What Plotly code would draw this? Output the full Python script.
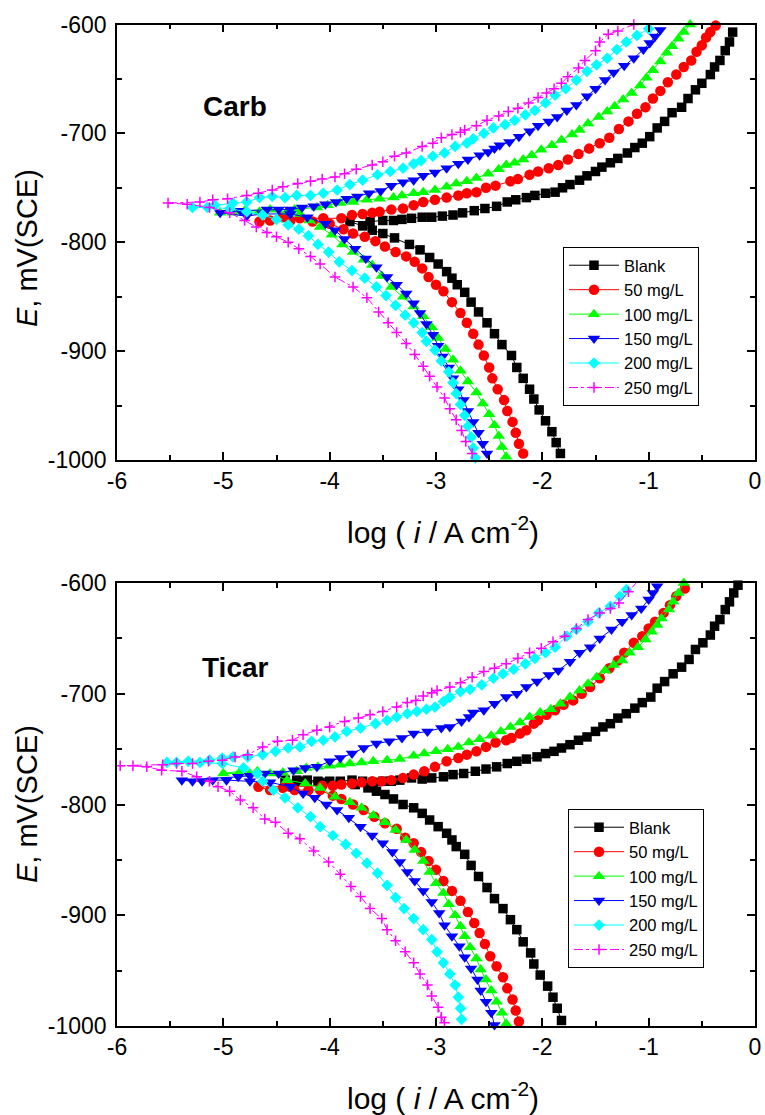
import plotly.graph_objects as go

# ---------------- data (log i [A cm-2], E [mV vs SCE]) ----------------
series_names = ["Blank", "50 mg/L", "100 mg/L", "150 mg/L", "200 mg/L", "250 mg/L"]
x_tick_vals = [-6, -5, -4, -3, -2, -1, 0]
y_tick_vals = [-1000, -900, -800, -700, -600]

# ---- Carb (top panel) ----
carb_blank = [(-1.83,-994),(-1.87,-984),(-1.91,-974),(-1.97,-964),(-2.03,-954),(-2.08,-944),(-2.12,-935),(-2.18,-925),
    (-2.24,-915),(-2.29,-904),(-2.38,-894),(-2.45,-884),(-2.52,-874),(-2.60,-864),(-2.67,-855),(-2.73,-846),(-2.80,-839),
    (-2.85,-833),(-2.90,-827),(-2.98,-820),(-3.06,-814),(-3.15,-807),(-3.25,-802),(-3.39,-796),(-3.50,-792),(-3.60,-789),
    (-3.69,-785),(-3.81,-781),
    (-3.62,-781),(-3.50,-780),(-3.40,-780),(-3.32,-779),(-3.23,-778),(-3.13,-777),(-3.04,-777),(-2.94,-776),(-2.84,-775),
    (-2.75,-773),(-2.64,-771),(-2.54,-769),(-2.43,-767),(-2.33,-763),(-2.25,-761),(-2.15,-759),(-2.07,-757),(-1.97,-755),
    (-1.88,-754),(-1.81,-750),(-1.74,-747),(-1.65,-743),(-1.58,-739),(-1.50,-735),(-1.44,-731),(-1.36,-727),(-1.29,-723),
    (-1.20,-718),(-1.13,-713),(-1.06,-709),(-0.99,-703),(-0.92,-695),(-0.85,-689),(-0.78,-681),(-0.69,-676),(-0.63,-668),
    (-0.56,-660),(-0.50,-654),(-0.42,-646),(-0.38,-639),(-0.33,-633),(-0.28,-624),(-0.24,-616),(-0.21,-607)]

carb_50 = [(-2.18,-994),(-2.22,-985),(-2.25,-975),(-2.28,-965),(-2.33,-955),(-2.36,-945),(-2.42,-935),(-2.47,-925),
    (-2.50,-915),(-2.55,-904),(-2.60,-894),(-2.65,-884),(-2.71,-874),(-2.77,-865),(-2.85,-855),(-2.93,-845),(-3.00,-839),
    (-3.07,-832),(-3.13,-824),(-3.20,-818),(-3.28,-813),(-3.38,-809),(-3.48,-804),(-3.57,-799),(-3.67,-795),(-3.78,-792),
    (-3.87,-788),(-4.00,-783),(-4.16,-781),(-4.37,-780),(-4.56,-780),(-4.66,-781),
    (-4.44,-777),(-4.28,-778),(-4.06,-778),(-3.89,-778),(-3.79,-775),(-3.69,-774),(-3.60,-773),(-3.53,-772),(-3.42,-770),
    (-3.31,-769),(-3.21,-766),(-3.12,-763),(-3.01,-761),(-2.90,-759),(-2.79,-757),(-2.71,-755),(-2.62,-754),(-2.53,-750),
    (-2.44,-748),(-2.30,-744),(-2.23,-742),(-2.12,-738),(-2.04,-735),(-1.94,-732),(-1.85,-729),(-1.76,-724),(-1.66,-719),
    (-1.56,-714),(-1.46,-709),(-1.37,-704),(-1.28,-696),(-1.19,-689),(-1.11,-682),(-1.03,-676),(-0.96,-668),(-0.89,-661),
    (-0.82,-653),(-0.74,-646),(-0.67,-639),(-0.60,-633),(-0.55,-625),(-0.50,-619),(-0.46,-612),(-0.42,-607),(-0.37,-601)]

carb_100 = [(-2.34,-997),(-2.38,-988),(-2.41,-978),(-2.45,-968),(-2.50,-958),(-2.56,-948),(-2.62,-938),(-2.70,-928),
    (-2.77,-918),(-2.84,-908),(-2.91,-898),(-2.98,-888),(-3.04,-878),(-3.12,-868),(-3.21,-859),(-3.31,-850),(-3.42,-841),
    (-3.51,-831),(-3.60,-821),(-3.68,-816),(-3.78,-809),(-3.88,-802),(-3.98,-793),(-4.09,-786),(-4.19,-780),(-4.28,-774),
    (-4.40,-772),(-4.66,-772),(-4.91,-773),(-5.03,-773),
    (-4.80,-771),(-4.56,-770),(-4.33,-770),(-4.12,-768),(-4.02,-766),(-3.90,-764),(-3.78,-763),(-3.65,-761),(-3.53,-760),
    (-3.40,-759),(-3.32,-757),(-3.21,-755),(-3.12,-754),(-3.01,-752),(-2.90,-749),(-2.81,-746),(-2.71,-744),(-2.62,-741),
    (-2.51,-737),(-2.41,-733),(-2.34,-729),(-2.26,-727),(-2.18,-724),(-2.10,-720),(-2.01,-715),(-1.91,-711),(-1.82,-706),
    (-1.72,-701),(-1.65,-697),(-1.57,-691),(-1.47,-685),(-1.39,-680),(-1.32,-675),(-1.24,-669),(-1.16,-663),(-1.08,-656),
    (-1.02,-649),(-0.96,-642),(-0.89,-634),(-0.83,-626),(-0.78,-620),(-0.72,-613),(-0.67,-607),(-0.61,-600)]

carb_150 = [(-2.52,-994),(-2.56,-985),(-2.60,-975),(-2.65,-965),(-2.70,-955),(-2.74,-945),(-2.79,-935),(-2.84,-925),
    (-2.88,-915),(-2.94,-905),(-2.98,-895),(-3.03,-885),(-3.09,-875),(-3.15,-865),(-3.21,-856),(-3.28,-847),(-3.37,-839),
    (-3.46,-832),(-3.56,-823),(-3.66,-815),(-3.76,-806),(-3.86,-797),(-3.95,-789),(-4.04,-783),(-4.21,-777),(-4.37,-774),
    (-4.63,-774),(-4.78,-776),(-5.03,-773),
    (-4.84,-771),(-4.59,-770),(-4.48,-770),(-4.37,-770),(-4.26,-768),(-4.15,-767),(-4.04,-765),(-3.94,-763),(-3.84,-760),
    (-3.74,-758),(-3.63,-755),(-3.52,-753),(-3.42,-748),(-3.31,-745),(-3.21,-743),(-3.12,-739),(-3.01,-736),(-2.90,-732),
    (-2.79,-728),(-2.70,-724),(-2.59,-720),(-2.51,-717),(-2.45,-714),(-2.40,-711),(-2.31,-708),(-2.22,-703),(-2.12,-698),
    (-2.04,-693),(-1.94,-689),(-1.86,-685),(-1.77,-679),(-1.68,-674),(-1.58,-666),(-1.50,-659),(-1.41,-651),(-1.33,-644),
    (-1.23,-638),(-1.14,-631),(-1.05,-623),(-0.99,-617),(-0.94,-611),(-0.89,-605)]

carb_200 = [(-2.63,-998),(-2.65,-989),(-2.67,-979),(-2.70,-969),(-2.73,-959),(-2.77,-949),(-2.81,-939),(-2.84,-929),
    (-2.88,-919),(-2.95,-909),(-3.01,-899),(-3.09,-891),(-3.13,-883),(-3.21,-874),(-3.29,-867),(-3.38,-858),(-3.47,-849),
    (-3.56,-841),(-3.67,-833),(-3.79,-826),(-3.91,-818),(-4.01,-809),(-4.11,-802),(-4.20,-794),(-4.29,-788),(-4.39,-784),
    (-4.50,-779),(-4.63,-775),(-4.78,-772),(-4.94,-769),(-5.15,-768),(-5.29,-768),
    (-5.08,-766),(-4.91,-764),(-4.78,-763),(-4.66,-759),(-4.54,-758),(-4.42,-759),(-4.31,-757),(-4.18,-757),(-4.06,-755),
    (-3.93,-752),(-3.81,-747),(-3.69,-743),(-3.55,-738),(-3.43,-735),(-3.31,-732),(-3.21,-728),(-3.14,-725),(-3.03,-721),
    (-2.92,-718),(-2.82,-712),(-2.71,-709),(-2.65,-705),(-2.55,-700),(-2.46,-695),(-2.35,-692),(-2.26,-688),(-2.16,-683),
    (-2.07,-679),(-1.97,-672),(-1.88,-665),(-1.78,-659),(-1.68,-651),(-1.58,-643),(-1.49,-637),(-1.39,-631),(-1.30,-623),
    (-1.21,-616),(-1.11,-610),(-1.00,-604)]

carb_250 = [(-2.66,-994),(-2.72,-983),(-2.76,-973),(-2.81,-963),(-2.87,-953),(-2.92,-943),(-2.99,-933),(-3.06,-923),
    (-3.12,-914),(-3.20,-903),(-3.28,-893),(-3.37,-883),(-3.45,-874),(-3.54,-864),(-3.65,-851),(-3.78,-841),(-3.95,-832),
    (-4.09,-820),(-4.18,-813),(-4.29,-806),(-4.39,-800),(-4.50,-795),(-4.59,-791),(-4.69,-786),(-4.80,-780),(-4.94,-773),
    (-5.13,-768),(-5.34,-765),(-5.52,-764),
    (-5.22,-763),(-5.10,-761),(-4.96,-760),(-4.78,-757),(-4.67,-755),(-4.54,-752),(-4.44,-749),(-4.30,-746),(-4.18,-744),
    (-4.07,-742),(-3.95,-740),(-3.86,-737),(-3.75,-733),(-3.60,-729),(-3.50,-726),(-3.39,-721),(-3.28,-718),(-3.13,-712),
    (-3.03,-709),(-2.95,-704),(-2.85,-701),(-2.77,-699),(-2.73,-697),(-2.62,-693),(-2.52,-688),(-2.41,-684),(-2.32,-680),
    (-2.23,-677),(-2.13,-672),(-2.04,-667),(-1.96,-663),(-1.89,-659),(-1.82,-654),(-1.76,-648),(-1.66,-640),(-1.60,-633),
    (-1.50,-624),(-1.46,-616),(-1.38,-609),(-1.29,-606),(-1.14,-600)]

# ---- Ticar (bottom panel) ----
ticar_blank = [(-1.82,-995),(-1.86,-984),(-1.90,-974),(-1.95,-964),(-2.02,-954),(-2.08,-944),(-2.11,-934),(-2.18,-924),
    (-2.24,-913),(-2.30,-904),(-2.37,-894),(-2.45,-885),(-2.52,-875),(-2.60,-865),(-2.67,-855),(-2.73,-845),(-2.81,-838),
    (-2.85,-832),(-2.90,-826),(-2.98,-820),(-3.06,-814),(-3.13,-808),(-3.21,-803),(-3.31,-800),(-3.40,-795),(-3.48,-791),
    (-3.56,-788),(-3.64,-785),(-3.76,-782),(-3.90,-781),(-4.09,-780),(-4.28,-779),(-4.42,-778),
    (-4.31,-778),(-4.21,-778),(-4.11,-779),(-4.00,-779),(-3.90,-779),(-3.79,-778),(-3.69,-779),(-3.59,-780),(-3.50,-779),
    (-3.42,-779),(-3.34,-778),(-3.23,-776),(-3.13,-777),(-3.04,-776),(-2.93,-775),(-2.84,-773),(-2.74,-772),(-2.63,-770),
    (-2.53,-768),(-2.43,-766),(-2.33,-763),(-2.24,-761),(-2.15,-759),(-2.05,-757),(-1.97,-754),(-1.89,-752),(-1.82,-749),
    (-1.74,-746),(-1.66,-742),(-1.58,-739),(-1.50,-734),(-1.43,-730),(-1.36,-727),(-1.29,-722),(-1.21,-718),(-1.13,-713),
    (-1.06,-708),(-0.98,-703),(-0.92,-695),(-0.85,-689),(-0.77,-682),(-0.69,-676),(-0.62,-669),(-0.56,-660),(-0.49,-654),
    (-0.42,-647),(-0.38,-639),(-0.33,-633),(-0.28,-624),(-0.24,-617),(-0.20,-609),(-0.16,-602)]

ticar_50 = [(-2.22,-996),(-2.25,-986),(-2.28,-976),(-2.33,-966),(-2.37,-956),(-2.43,-946),(-2.49,-937),(-2.54,-926),
    (-2.59,-916),(-2.64,-907),(-2.70,-897),(-2.77,-887),(-2.85,-878),(-2.93,-869),(-3.00,-859),(-3.07,-851),(-3.14,-843),
    (-3.21,-835),(-3.29,-830),(-3.37,-822),(-3.48,-817),(-3.58,-811),(-3.68,-805),(-3.78,-800),(-3.89,-795),(-3.97,-792),
    (-4.09,-787),(-4.20,-787),(-4.33,-787),(-4.44,-785),(-4.56,-787),(-4.67,-784),
    (-4.37,-784),(-4.07,-783),(-3.97,-783),(-3.89,-782),(-3.79,-781),(-3.70,-780),(-3.60,-779),(-3.51,-779),(-3.42,-778),
    (-3.31,-776),(-3.21,-773),(-3.11,-770),(-3.01,-766),(-2.90,-761),(-2.79,-758),(-2.71,-755),(-2.62,-752),(-2.53,-748),
    (-2.44,-744),(-2.34,-742),(-2.29,-740),(-2.21,-736),(-2.15,-733),(-2.08,-727),(-2.04,-724),(-1.96,-719),(-1.88,-715),
    (-1.80,-710),(-1.71,-706),(-1.63,-700),(-1.55,-694),(-1.46,-686),(-1.37,-677),(-1.29,-670),(-1.23,-663),(-1.14,-654),
    (-1.06,-648),(-1.00,-641),(-0.94,-635),(-0.86,-627),(-0.80,-620),(-0.74,-612),(-0.66,-605)]

ticar_100 = [(-2.34,-998),(-2.38,-988),(-2.43,-978),(-2.48,-968),(-2.53,-958),(-2.58,-949),(-2.62,-939),(-2.68,-929),
    (-2.73,-919),(-2.77,-910),(-2.82,-900),(-2.88,-890),(-2.93,-880),(-3.00,-871),(-3.06,-861),(-3.12,-851),(-3.20,-841),
    (-3.28,-832),(-3.38,-823),(-3.48,-816),(-3.59,-810),(-3.70,-803),(-3.81,-798),(-3.95,-793),(-4.09,-785),(-4.23,-781),
    (-4.40,-778),(-4.56,-772),(-4.75,-772),(-5.00,-772),
    (-4.84,-770),(-4.68,-770),(-4.44,-771),(-4.31,-770),(-4.22,-767),(-4.11,-766),(-4.00,-765),(-3.90,-764),(-3.81,-763),
    (-3.70,-762),(-3.59,-761),(-3.46,-760),(-3.34,-759),(-3.21,-756),(-3.11,-754),(-3.00,-752),(-2.89,-750),(-2.79,-748),
    (-2.69,-744),(-2.59,-741),(-2.48,-738),(-2.39,-734),(-2.30,-730),(-2.21,-726),(-2.12,-721),(-2.02,-717),(-1.92,-714),
    (-1.83,-709),(-1.74,-703),(-1.65,-697),(-1.57,-691),(-1.49,-685),(-1.41,-679),(-1.33,-674),(-1.25,-670),(-1.18,-663),
    (-1.10,-658),(-1.03,-651),(-0.97,-644),(-0.92,-638),(-0.88,-632),(-0.81,-624),(-0.77,-617),(-0.72,-609),(-0.67,-600)]

ticar_150 = [(-2.45,-999),(-2.48,-988),(-2.53,-978),(-2.58,-968),(-2.61,-958),(-2.67,-948),(-2.73,-938),(-2.78,-928),
    (-2.85,-919),(-2.92,-909),(-2.97,-898),(-3.04,-888),(-3.12,-878),(-3.20,-869),(-3.27,-861),(-3.34,-852),(-3.41,-843),
    (-3.50,-835),(-3.60,-828),(-3.71,-820),(-3.82,-812),(-3.93,-805),(-4.03,-800),(-4.14,-794),(-4.25,-790),(-4.37,-784),
    (-4.56,-780),(-4.75,-779),(-4.97,-778),(-5.10,-778),(-5.20,-779),(-5.29,-779),(-5.39,-778),
    (-4.86,-775),(-4.75,-774),(-4.61,-772),(-4.48,-772),(-4.34,-769),(-4.23,-767),(-4.12,-766),(-4.00,-761),(-3.90,-758),
    (-3.79,-754),(-3.68,-749),(-3.56,-745),(-3.44,-743),(-3.32,-740),(-3.21,-736),(-3.08,-734),(-2.95,-731),(-2.87,-730),
    (-2.76,-725),(-2.69,-721),(-2.65,-717),(-2.55,-715),(-2.45,-709),(-2.34,-703),(-2.24,-700),(-2.15,-694),(-2.05,-689),
    (-1.94,-683),(-1.85,-679),(-1.74,-671),(-1.65,-663),(-1.55,-658),(-1.46,-650),(-1.35,-642),(-1.25,-635),(-1.16,-629),
    (-1.07,-623),(-1.00,-615),(-0.96,-609),(-0.92,-603)]

ticar_200 = [(-2.76,-994),(-2.77,-984),(-2.79,-974),(-2.82,-963),(-2.87,-953),(-2.93,-943),(-2.99,-933),(-3.04,-922),
    (-3.12,-913),(-3.21,-903),(-3.30,-894),(-3.38,-884),(-3.46,-873),(-3.55,-862),(-3.65,-853),(-3.75,-844),(-3.85,-836),
    (-3.97,-828),(-4.09,-820),(-4.18,-811),(-4.30,-803),(-4.42,-794),(-4.53,-787),(-4.63,-779),(-4.68,-772),(-4.81,-767),
    (-5.01,-763),(-5.22,-762),(-5.44,-762),(-5.53,-762),
    (-5.33,-761),(-5.13,-760),(-5.01,-758),(-4.91,-757),(-4.77,-757),(-4.63,-755),(-4.51,-752),(-4.39,-749),(-4.28,-748),
    (-4.17,-743),(-4.06,-742),(-3.95,-739),(-3.84,-734),(-3.71,-731),(-3.57,-727),(-3.46,-724),(-3.37,-721),(-3.27,-718),
    (-3.18,-716),(-3.09,-714),(-3.01,-712),(-2.93,-707),(-2.87,-703),(-2.77,-698),(-2.68,-696),(-2.57,-692),(-2.46,-686),
    (-2.37,-682),(-2.27,-678),(-2.16,-673),(-2.07,-668),(-1.97,-663),(-1.88,-658),(-1.77,-648),(-1.68,-642),(-1.57,-635),
    (-1.47,-627),(-1.36,-621),(-1.27,-612),(-1.21,-606)]

ticar_250 = [(-2.92,-997),(-2.95,-992),(-2.98,-983),(-3.04,-973),(-3.08,-963),(-3.15,-953),(-3.21,-943),(-3.29,-933),
    (-3.38,-923),(-3.46,-913),(-3.51,-903),(-3.62,-894),(-3.71,-883),(-3.80,-874),(-3.90,-863),(-4.01,-852),(-4.15,-842),
    (-4.28,-831),(-4.39,-826),(-4.51,-816),(-4.61,-813),(-4.72,-803),(-4.84,-796),(-4.94,-788),(-5.05,-784),(-5.13,-779),
    (-5.25,-775),(-5.39,-770),(-5.58,-769),(-5.72,-766),(-5.85,-765),(-5.97,-765),
    (-5.57,-764),(-5.44,-763),(-5.29,-763),(-5.14,-761),(-5.01,-760),(-4.89,-757),(-4.77,-755),(-4.63,-748),(-4.49,-743),
    (-4.35,-742),(-4.25,-737),(-4.12,-733),(-4.00,-730),(-3.86,-725),(-3.73,-722),(-3.62,-719),(-3.50,-716),(-3.37,-712),
    (-3.27,-708),(-3.19,-706),(-3.12,-702),(-3.04,-699),(-2.99,-697),(-2.87,-694),(-2.77,-690),(-2.66,-685),(-2.55,-680),
    (-2.45,-677),(-2.34,-673),(-2.23,-668),(-2.12,-663),(-2.01,-659),(-1.90,-653),(-1.79,-648),(-1.68,-641),(-1.57,-633),
    (-1.46,-627),(-1.36,-623),(-1.28,-618),(-1.19,-608),(-1.11,-599)]

carb_series = [carb_blank, carb_50, carb_100, carb_150, carb_200, carb_250]
ticar_series = [ticar_blank, ticar_50, ticar_100, ticar_150, ticar_200, ticar_250]

# ---------------- styles ----------------
colors = ["#000000", "#FF0000", "#00FF00", "#0000FF", "#00FFFF", "#FF00FF"]
symbols = ["square", "circle", "triangle-up", "triangle-down", "diamond", "cross-thin"]
msizes = [9.5, 10.5, 11, 11, 9, 7.5]
dashes = ["solid", "solid", "solid", "solid", "solid", "dashdot"]

W, H = 765, 1115
FONT = "Liberation Sans, Arial, sans-serif"

fig = go.Figure()

def add_panel(series_list, xa, ya, legend_id):
    for data, name, c, s, ms, d in zip(series_list, series_names, colors, symbols, msizes, dashes):
        xs = [p[0] for p in data]
        ys = [p[1] for p in data]
        marker = dict(symbol=s, size=ms, color=c, line=dict(width=0))
        if s == "cross-thin":
            marker["line"] = dict(width=1.5, color=c)
        fig.add_trace(go.Scatter(
            x=xs, y=ys, mode="lines+markers", name=name,
            line=dict(color=c, width=1, dash=d),
            marker=marker, xaxis=xa, yaxis=ya, legend=legend_id,
            cliponaxis=False))

add_panel(carb_series, "x", "y", "legend")
add_panel(ticar_series, "x2", "y2", "legend2")

def px_x(p):
    return p / W

def px_y(p):
    return 1 - p / H

tickfont = dict(family=FONT, size=23, color="black")
xcommon = dict(range=[-6, 0], tickmode="array", tickvals=x_tick_vals,
               ticktext=[str(v) for v in x_tick_vals],
               showline=True, linecolor="black", linewidth=1.5, mirror="allticks",
               ticks="inside", ticklen=8, tickwidth=1.5, tickcolor="black",
               minor=dict(ticks="inside", ticklen=5, tickwidth=1.5, tickcolor="black",
                          tickvals=[-5.5, -4.5, -3.5, -2.5, -1.5, -0.5]),
               showgrid=False, zeroline=False, tickfont=tickfont, ticklabelstandoff=0,
               fixedrange=True)
ycommon = dict(range=[-1000, -600], tickmode="array", tickvals=y_tick_vals,
               ticktext=[str(v) for v in y_tick_vals],
               showline=True, linecolor="black", linewidth=1.5, mirror="allticks",
               ticks="inside", ticklen=8, tickwidth=1.5, tickcolor="black",
               minor=dict(ticks="inside", ticklen=5, tickwidth=1.5, tickcolor="black",
                          tickvals=[-950, -850, -750, -650]),
               showgrid=False, zeroline=False, tickfont=tickfont, ticklabelstandoff=4,
               fixedrange=True)

legend_font = dict(family=FONT, size=16.5, color="black")
xdom = [px_x(117), px_x(755)]
fig.update_layout(
    width=W, height=H, margin=dict(l=0, r=0, t=0, b=0, autoexpand=False),
    paper_bgcolor="white", plot_bgcolor="white",
    font=dict(family=FONT, color="black"),
    xaxis=dict(domain=xdom, anchor="y", **xcommon),
    yaxis=dict(domain=[px_y(460), px_y(24.5)], anchor="x", **ycommon),
    xaxis2=dict(domain=xdom, anchor="y2", **xcommon),
    yaxis2=dict(domain=[px_y(1026), px_y(583)], anchor="x2", **ycommon),
    legend=dict(x=px_x(563), y=px_y(247), xanchor="left", yanchor="top",
                bordercolor="black", borderwidth=1, bgcolor="white",
                font=legend_font, itemwidth=50, tracegroupgap=0),
    legend2=dict(x=px_x(568), y=px_y(809), xanchor="left", yanchor="top",
                 bordercolor="black", borderwidth=1, bgcolor="white",
                 font=legend_font, itemwidth=50, tracegroupgap=0),
    showlegend=True,
)

xtitle = "log ( <i>i</i> / A cm<sup>-2</sup>)"
ytitle = "<i>E</i>, mV(SCE)"
annots = [
    dict(text=xtitle, x=px_x(443), y=px_y(530), xref="paper", yref="paper",
         showarrow=False, font=dict(family=FONT, size=30, color="black"), xanchor="center", yanchor="middle"),
    dict(text=xtitle, x=px_x(443), y=px_y(1096), xref="paper", yref="paper",
         showarrow=False, font=dict(family=FONT, size=30, color="black"), xanchor="center", yanchor="middle"),
    dict(text=ytitle, x=px_x(27), y=px_y(248), xref="paper", yref="paper", textangle=-90,
         showarrow=False, font=dict(family=FONT, size=29, color="black"), xanchor="center", yanchor="middle"),
    dict(text=ytitle, x=px_x(27), y=px_y(804), xref="paper", yref="paper", textangle=-90,
         showarrow=False, font=dict(family=FONT, size=29, color="black"), xanchor="center", yanchor="middle"),
    dict(text="<b>Carb</b>", x=px_x(235), y=px_y(106), xref="paper", yref="paper",
         showarrow=False, font=dict(family=FONT, size=28, color="black"), xanchor="center", yanchor="middle"),
    dict(text="<b>Ticar</b>", x=px_x(235), y=px_y(667), xref="paper", yref="paper",
         showarrow=False, font=dict(family=FONT, size=28, color="black"), xanchor="center", yanchor="middle"),
]
fig.update_layout(annotations=annots)

fig.write_html("out.html", config={"displayModeBar": False, "responsive": False},
               post_script="document.body.style.margin='0px';document.body.style.padding='0px';")
